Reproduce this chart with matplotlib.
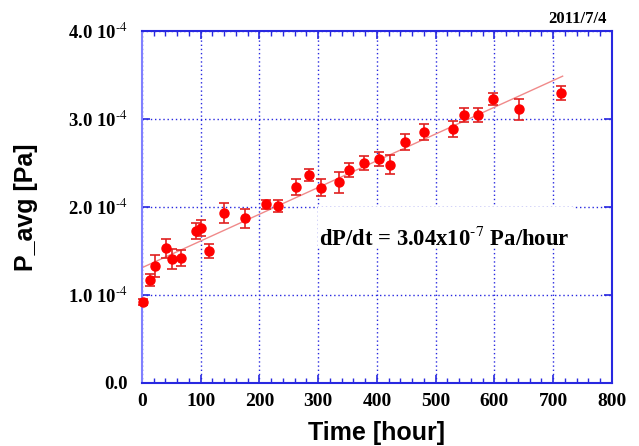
import numpy as np
import matplotlib
matplotlib.use("Agg")
import matplotlib.pyplot as plt
from matplotlib.ticker import MultipleLocator
from matplotlib.patches import Rectangle

plt.rcParams['mathtext.fontset'] = 'stix'
plt.rcParams['mathtext.default'] = 'bf'

# measured data, pressure in units of 1e-4 Pa
hours = [1, 14, 22, 41, 51, 66, 92, 100, 114, 139, 175, 211, 231, 262, 284, 305,
         335, 352, 378, 403, 423, 447, 480, 529, 548, 572, 597, 641, 714]
p_avg = [0.92, 1.17, 1.33, 1.53, 1.41, 1.42, 1.73, 1.76, 1.50, 1.93, 1.87, 2.03, 2.01,
         2.23, 2.36, 2.22, 2.28, 2.42, 2.50, 2.55, 2.48, 2.74, 2.85, 2.89, 3.05, 3.05,
         3.23, 3.11, 3.30]
p_err = [0.03, 0.07, 0.12, 0.11, 0.11, 0.09, 0.09, 0.09, 0.08, 0.11, 0.11, 0.05, 0.07,
         0.09, 0.07, 0.10, 0.12, 0.08, 0.08, 0.08, 0.11, 0.09, 0.09, 0.09, 0.08, 0.08,
         0.07, 0.12, 0.08]

# linear fit shown in the plot
fit_slope = 3.04e-3      # 1e-4 Pa / hour
fit_offset = 1.31
fit_range = [0, 716]

yticks = [0, 1, 2, 3, 4]
ytick_labels = ["0.0", r"1.0 10$^{\text{-4}}$", r"2.0 10$^{\text{-4}}$",
                r"3.0 10$^{\text{-4}}$", r"4.0 10$^{\text{-4}}$"]

blue = "#2828e0"
serif = ["Liberation Serif", "DejaVu Serif"]

fig = plt.figure(figsize=(6.39, 4.46), dpi=100)
ax = fig.add_axes([0.2222, 0.1413, 0.7355, 0.7892])

ax.set_xlim(0, 800)
ax.set_ylim(0, 4)

ax.grid(True, which='major', color=blue, linestyle=(0, (1, 2)), linewidth=1, zorder=0)
ax.set_axisbelow(True)

# white area behind the slope label (hides grid there)
ax.add_patch(Rectangle((300, 1.53), 433, 0.47, facecolor='white', edgecolor='none', zorder=1))

xf = np.array(fit_range, dtype=float)
ax.plot(xf, fit_offset + fit_slope * xf, color="#f08a8a", linewidth=1, zorder=2)

ax.errorbar(hours, p_avg, yerr=p_err, fmt='o', color='#ff0000', ecolor='#e02020',
            markersize=6.5, capsize=3.5, elinewidth=1.2, capthick=1.2, zorder=3,
            clip_on=False)

ax.text(302, 1.57, r"dP/dt = 3.04x10$^{\text{-7}}$ Pa/hour", fontsize=16.3, fontweight='bold',
        family=serif, zorder=4, va='baseline')

ax.xaxis.set_major_locator(MultipleLocator(100))
ax.xaxis.set_minor_locator(MultipleLocator(20))
ax.set_yticks(yticks)
ax.set_yticklabels(ytick_labels)

ax.tick_params(axis='x', which='major', direction='in', top=True, length=6, width=1.2,
               color=blue, pad=7)
ax.tick_params(axis='x', which='minor', direction='in', top=True, length=3.5, width=1,
               color=blue)
ax.tick_params(axis='y', which='major', direction='in', right=True, length=6, width=1.2,
               color=blue, pad=10)
for lab in ax.get_xticklabels() + ax.get_yticklabels():
    lab.set_family(serif)
    lab.set_fontweight('bold')
    lab.set_fontsize(14)
for lab in ax.get_yticklabels():
    lab.set_fontsize(13.5)

for side in ['top', 'right', 'bottom']:
    ax.spines[side].set_color(blue)
    ax.spines[side].set_linewidth(1.5)
ax.spines['left'].set_color("#8080ff")
ax.spines['left'].set_linewidth(1.5)

ax.set_xlabel("Time [hour]", fontsize=18, fontweight='bold', family="Liberation Sans",
              labelpad=8)
ax.set_ylabel("P_avg [Pa]", fontsize=18, fontweight='bold', family="Liberation Sans",
              labelpad=22)

fig.text(0.903, 0.94, "2011/7/4", fontsize=12, fontweight='bold', family=serif,
         ha='center', va='bottom')

fig.savefig("out.png", dpi=100)
